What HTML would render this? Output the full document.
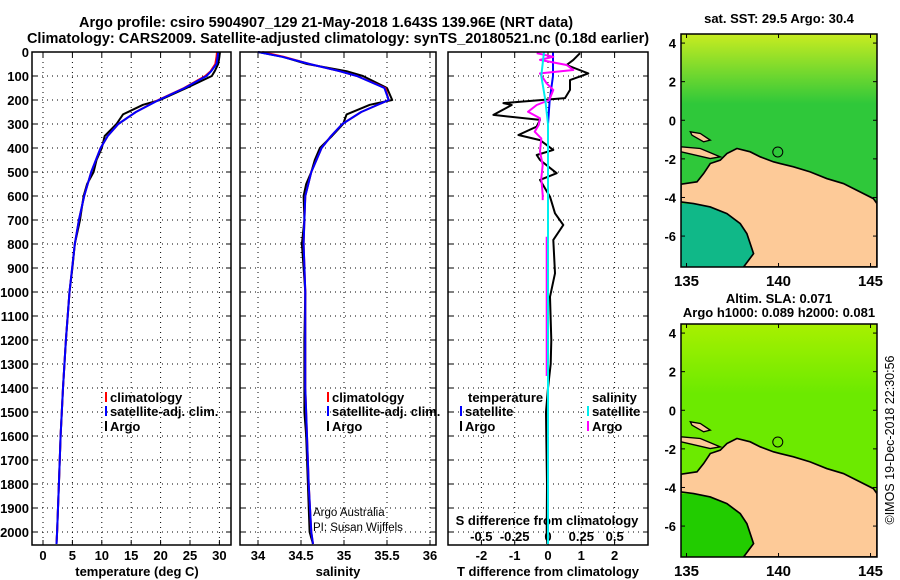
<!DOCTYPE html>
<html><head><meta charset="utf-8">
<style>
body{margin:0;background:#fff;width:900px;height:580px;overflow:hidden}
svg{display:block;font-family:"Liberation Sans",sans-serif;font-weight:bold}
</style></head>
<body>
<svg id="fig" width="900" height="580" viewBox="0 0 900 580">
<g id="static">
<text x="326" y="27" font-size="14.5" text-anchor="middle">Argo profile: csiro 5904907_129 21-May-2018 1.643S 139.96E (NRT data)</text>
<text x="338" y="43" font-size="14.5" text-anchor="middle">Climatology: CARS2009. Satellite-adjusted climatology: synTS_20180521.nc (0.18d earlier)</text>
<text x="137" y="576" font-size="13" text-anchor="middle">temperature (deg C)</text>
<text x="338" y="576" font-size="13" text-anchor="middle">salinity</text>
<text x="548" y="576" font-size="13" text-anchor="middle">T difference from climatology</text>
<text x="547" y="525" font-size="13" text-anchor="middle">S difference from climatology</text>
<text x="313" y="516" font-size="11.5" font-weight="normal">Argo Australia</text>
<text x="313" y="531" font-size="11.5" font-weight="normal">PI: Susan Wijffels</text>
<text x="779" y="23" font-size="13" text-anchor="middle">sat. SST: 29.5 Argo: 30.4</text>
<text x="779" y="303" font-size="13" text-anchor="middle">Altim. SLA: 0.071</text>
<text x="779" y="317" font-size="13" text-anchor="middle">Argo h1000: 0.089 h2000: 0.081</text>
<text transform="translate(894,440) rotate(-90)" font-size="12.5" font-weight="normal" text-anchor="middle">©IMOS 19-Dec-2018 22:30:56</text>
</g>
<g id="plots"></g>
</svg>
<script>
// ---------- data ----------
const argoDepth = [0,20,50,80,100,150,200,220,260,300,350,400,450,500,550,600,700,800,900,1000,1200,1400,1500,1600,1800,2000,2050];
const argoTemp  = [30.1,30.0,29.8,29.2,28.7,24.4,19.9,17.0,13.6,12.5,10.5,10.0,9.1,8.6,7.5,6.9,6.3,5.4,5.0,4.5,3.9,3.4,3.2,3.0,2.7,2.4,2.3];
const argoSal   = [34.0,34.29,34.57,35.03,35.22,35.5,35.56,35.3,35.03,34.99,34.86,34.72,34.66,34.62,34.56,34.53,34.54,34.51,34.53,34.55,34.54,34.54,34.54,34.56,34.58,34.6,34.64];
const climDepth = [0,20,50,80,100,150,200,250,300,350,400,500,600,700,800,1000,1200,1400,1600,1800,2000,2050];
const climTemp  = [29.6,29.5,29.3,28.5,27.6,24.0,19.6,15.8,12.8,11.0,9.8,8.2,7.0,6.1,5.4,4.5,3.9,3.4,3.0,2.7,2.4,2.3];
const satTemp   = [29.8,29.7,29.5,28.6,27.8,24.1,19.7,15.8,12.8,11.0,9.8,8.2,7.0,6.1,5.4,4.5,3.9,3.4,3.0,2.7,2.4,2.3];
const climSal   = [34.05,34.3,34.6,34.95,35.15,35.48,35.52,35.2,34.98,34.85,34.74,34.62,34.55,34.54,34.53,34.55,34.55,34.55,34.57,34.59,34.62,34.64];
const satSal    = [34.0,34.28,34.6,34.95,35.15,35.47,35.52,35.2,34.98,34.85,34.74,34.62,34.55,34.54,34.53,34.55,34.55,34.55,34.57,34.59,34.62,34.64];
const tdDepth = [5,33,54,89,117,158,192,213,221,262,283,311,346,367,408,429,450,505,533,603,672,721,783,922,1020,1200,1300,1400,1500,1600,1800,2000,2050];
const tdArgo  = [0.96,0.76,0.56,1.21,0.66,0.66,0.51,-1.34,-1.09,-1.64,-0.24,-0.34,-0.89,-0.24,0.16,-0.34,-0.24,0.26,-0.24,0.06,0.21,0.46,0.16,0.21,0.06,0.1,0.08,0.0,-0.06,-0.05,-0.03,-0.04,-0.02];
const sdDepth = [5,20,33,54,75,89,131,158,200,221,249,276,304,332,360,415,471,526,596,617];
const sdArgo  = [-0.085,0.04,-0.06,0.14,0.19,-0.06,-0.01,0.04,0.01,-0.085,-0.15,-0.06,-0.07,-0.1,-0.05,-0.06,-0.04,-0.05,-0.04,-0.04];
const sdDepth2 = [770,1000,1200,1350];
const sdArgo2  = [-0.01,-0.01,-0.01,-0.01];
const tsDepth = [0,100,200,300,400,2050];
const tdSat   = [0.15,0.15,0.05,0.0,0.0,0.0];
const sdSat   = [-0.03,-0.05,-0.02,0.0,0.0,0.0];
const depthTicks = [0,100,200,300,400,500,600,700,800,900,1000,1100,1200,1300,1400,1500,1600,1700,1800,1900,2000];
const tempTicks = [0,5,10,15,20,25,30];
const salTicks = [34,34.5,35,35.5,36];
const salTickLabels = ["34","34.5","35","35.5","36"];
const tdTicks = [-2,-1,0,1,2];
const sdTicks = [-0.5,-0.25,0,0.25,0.5];
const sdTickLabels = ["-0.5","-0.25","0","0.25","0.5"];
const latTicks = [4,2,0,-2,-4,-6];
const lonTicks = [135,140,145];
const argoLon = [139.96];
const argoLat = [-1.643];

// ---------- scales ----------
const TOP=52, BOT=545;
const yD = d => TOP + d*0.24;
const xT = t => 43 + t*5.88;
const xS = s => 258 + (s-34)*86;
const xTD = v => 548 + v*33.3;
const xSD = v => 548 + v*133.3;
const NS="http://www.w3.org/2000/svg";
const root=document.getElementById('plots');
function mk(tag, at, parent){const e=document.createElementNS(NS,tag);for(const k in at)e.setAttribute(k,at[k]);(parent||root).appendChild(e);return e;}
function pts(xs, ds, fx){return xs.map((v,i)=>fx(v).toFixed(1)+','+yD(ds[i]).toFixed(1)).join(' ');}

const panels=[{x0:32,x1:231,name:'temperature'},{x0:240,x1:436,name:'salinity'},{x0:448,x1:648,name:'difference'}];
panels.forEach((p,pi)=>{
  const g=mk('g',{});
  
  
  depthTicks.forEach(d=>{
    const l=mk('line',{x1:p.x0,x2:p.x1,y1:yD(d),y2:yD(d),stroke:'#000','stroke-width':1,'stroke-dasharray':'1,4'},g);
    
    
    mk('line',{x1:p.x0,x2:p.x0+5,y1:yD(d),y2:yD(d),stroke:'#000'},g);
    mk('line',{x1:p.x1-5,x2:p.x1,y1:yD(d),y2:yD(d),stroke:'#000'},g);
  });
  const xs = pi===0?tempTicks.map(xT):pi===1?salTicks.map(xS):tdTicks.map(xTD);
  xs.forEach(x=>{
    mk('line',{x1:x,x2:x,y1:TOP,y2:BOT,stroke:'#000','stroke-dasharray':'1,4'},g);
    mk('line',{x1:x,x2:x,y1:BOT-5,y2:BOT,stroke:'#000'},g);
    mk('line',{x1:x,x2:x,y1:TOP,y2:TOP+5,stroke:'#000'},g);
  });
});

depthTicks.forEach(d=>{
  const t=mk('text',{x:29,y:yD(d)+5,'font-size':13,'text-anchor':'end'});
  t.textContent=d;
  
  
});
tempTicks.forEach(v=>{const t=mk('text',{x:xT(v),y:560,'font-size':13,'text-anchor':'middle'});t.textContent=v;
  
  });
salTicks.forEach((v,i)=>{const t=mk('text',{x:xS(v),y:560,'font-size':13,'text-anchor':'middle'});t.textContent=salTickLabels[i];
  
  });
tdTicks.forEach(v=>{const t=mk('text',{x:xTD(v),y:560,'font-size':13,'text-anchor':'middle'});t.textContent=v;
  
  });
sdTicks.forEach((v,i)=>{const t=mk('text',{x:xSD(v),y:541,'font-size':13,'text-anchor':'middle'});t.textContent=sdTickLabels[i];
  
  });

function line(xs,ds,fx,color,w,name){
  const l=mk('polyline',{points:pts(xs,ds,fx),fill:'none',stroke:color,'stroke-width':w,'stroke-linejoin':'round'});
  
  
}
line(argoTemp,argoDepth,xT,'#000',2,'argo-temperature-line');
line(climTemp,climDepth,xT,'#f00',2,'climatology-temperature-line');
line(satTemp,climDepth,xT,'#00f',2,'satellite-temperature-line');
line(argoSal,argoDepth,xS,'#000',2,'argo-salinity-line');
line(climSal,climDepth,xS,'#f00',2,'climatology-salinity-line');
line(satSal,climDepth,xS,'#00f',2,'satellite-salinity-line');
line(tdArgo,tdDepth,xTD,'#000',2,'argo-t-diff-line');
line(tdSat,tsDepth,xTD,'#00f',2,'satellite-t-diff-line');
line(sdArgo,sdDepth,xSD,'#f0f',2,'argo-s-diff-line');
line(sdArgo2,sdDepth2,xSD,'#f0f',2,'argo-s-diff-line-deep');
line(sdSat,tsDepth,xSD,'#0ee',2,'satellite-s-diff-line');

function leg(x,y,color,label,name){
  const r=mk('rect',{x:x,y:y-10,width:2,height:10,fill:color});
  
  
  const t=mk('text',{x:x+5,y:y,'font-size':13,fill:'#000'});t.textContent=label;
  
  
}
leg(105,402,'#f00','climatology','legend-climatology-t');
leg(105,416,'#00f','satellite-adj. clim.','legend-satellite-t');
leg(105,431,'#000','Argo','legend-argo-t');
leg(327,402,'#f00','climatology','legend-climatology-s');
leg(327,416,'#00f','satellite-adj. clim.','legend-satellite-s');
leg(327,431,'#000','Argo','legend-argo-s');
{const t=mk('text',{x:468,y:402,'font-size':13});t.textContent='temperature';
 
 
 const u=mk('text',{x:592,y:402,'font-size':13});u.textContent='salinity';
 
 }
leg(460,416,'#00f','satellite','legend-satellite-tdiff');
leg(460,431,'#000','Argo','legend-argo-tdiff');
leg(587,416,'#0ee','satellite','legend-satellite-sdiff');
leg(587,431,'#f0f','Argo','legend-argo-sdiff');

panels.forEach(p=>{const r=mk('rect',{x:p.x0,y:TOP,width:p.x1-p.x0,height:BOT-TOP,fill:'none',stroke:'#000','stroke-width':1.5});
  
  });

// ---------- maps ----------
const MX0=681,MX1=877;
const lonX = lon => MX0 + (lon-134.7)*18.4;
function map(top,name,seaA,seaB,sw){
  const bot=top+233;
  const latY = lat => top + (4.47-lat)*19.3;
  const g=mk('g',{});
  
  
  const id=name+'-grad';
  const defs=mk('defs',{},g);
  const lg=mk('linearGradient',{id:id,x1:0,y1:0,x2:0,y2:1},defs);
  mk('stop',{offset:'0','stop-color':seaA},lg);
  mk('stop',{offset:'0.3','stop-color':seaB},lg);
  mk('stop',{offset:'1','stop-color':seaB},lg);
  mk('rect',{x:MX0,y:top,width:MX1-MX0,height:233,fill:'url(#'+id+')'},g);
  const svg=mk('svg',{x:MX0,y:top,width:MX1-MX0,height:233,viewBox:'62 102 589 698',preserveAspectRatio:'none'},g);
  mk('path',{d:'M62,610 L100,612 150,622 200,642 240,672 262,705 280,760 250,800 62,800Z',fill:sw},svg);
  const land=mk('path',{d:'M62,552 L62,605 100,610 150,620 200,640 240,670 260,700 280,760 250,800 651,800 651,610 640,595 600,575 550,550 500,535 450,515 400,500 360,490 340,485 300,470 270,455 230,445 200,460 180,480 150,490 130,520 110,545 Z',fill:'#fdca98',stroke:'#000','stroke-width':5},svg);
  
  
  mk('path',{d:'M90,395 L120,400 150,420 130,425 95,405Z',fill:'#fdca98',stroke:'#000','stroke-width':4},svg);
  mk('path',{d:'M62,440 L120,445 180,470 150,475 62,455Z',fill:'#fdca98',stroke:'#000','stroke-width':4},svg);
  const c=mk('circle',{cx:lonX(argoLon[0]),cy:latY(argoLat[0]),r:5,fill:'none',stroke:'#000','stroke-width':1},g);
  
  
  mk('rect',{x:MX0,y:top,width:MX1-MX0,height:233,fill:'none',stroke:'#000','stroke-width':1.5},g);
  latTicks.forEach(l=>{
    const y=latY(l);
    mk('line',{x1:MX0,x2:MX0+4,y1:y,y2:y,stroke:'#000'},g);
    mk('line',{x1:MX1-4,x2:MX1,y1:y,y2:y,stroke:'#000'},g);
    const t=mk('text',{x:MX0-5,y:y+5,'font-size':13,'text-anchor':'end'},g);t.textContent=l;
    
    
  });
  lonTicks.forEach(l=>{
    const x=lonX(l);
    mk('line',{x1:x,x2:x,y1:bot-4,y2:bot,stroke:'#000'},g);
    mk('line',{x1:x,x2:x,y1:top,y2:top+4,stroke:'#000'},g);
    const t=mk('text',{x:x,y:bot+19,'font-size':15,'text-anchor':'middle'},g);t.textContent=l;
    
    
  });
}
map(34,'sst-map','#c8ec20','#2fc83a','#10b888');
map(324,'sla-map','#a8f000','#6cea00','#22cc00');
</script>
</body></html>
